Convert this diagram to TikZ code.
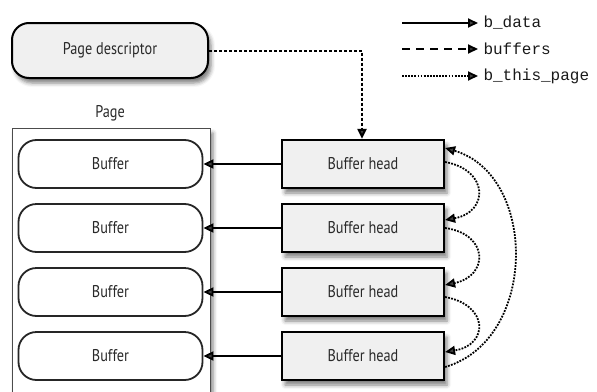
\documentclass[tikz,border=0pt]{standalone}
\usepackage{fontspec}
\setmainfont{PT Sans}[FakeStretch=0.84]
\newfontfamily\legendfont{Liberation Mono}
\usetikzlibrary{arrows.meta,shadows.blur,calc}
\definecolor{boxfill}{HTML}{F0F0F0}
\definecolor{txt}{HTML}{2A2A2A}
\begin{document}
\begin{tikzpicture}[x=1pt,y=-1pt,
  every node/.style={font=\fontsize{17}{20}\selectfont, text=txt},
  shade/.style={blur shadow={shadow xshift=3pt, shadow yshift=-5pt, shadow blur radius=4pt, shadow opacity=50}},
  descbox/.style={draw=black, line width=2pt, fill=boxfill, rounded corners=17pt, minimum width=196pt, minimum height=55pt, shade},
  bufbox/.style={draw=black!85, line width=1.8pt, fill=white, rounded corners=18pt, minimum width=184pt, minimum height=48pt},
  headbox/.style={draw=black, line width=2.2pt, fill=boxfill, minimum width=162pt, minimum height=48pt, shade},
  pagebox/.style={draw=black!70, line width=1pt, fill=white, shade},
  tip/.style={-{Triangle[length=10pt,width=9pt]}},
  dataline/.style={tip, line width=1.8pt},
  bufline/.style={tip, line width=2pt, dash pattern=on 3pt off 2pt},
  legbufline/.style={tip, line width=2pt, dash pattern=on 8pt off 6pt},
  pageline/.style={tip, line width=1.8pt, dash pattern=on 1.8pt off 1.3pt},
  legtext/.style={anchor=west, font=\legendfont\fontsize{16}{18}\selectfont, text=black!90}
]
\useasboundingbox (0,0) rectangle (597,391);

% page frame
\path[pagebox] (12,128) rectangle (210,400);
\node (pagelabel) at (110,113) {Page};

% page descriptor
\node[descbox] (pd) at (110,50.5) {Page descriptor};

% buffers and heads
\foreach \i/\y in {1/164,2/228,3/292,4/356}{
  \node[bufbox] (b\i) at (110.5,\y) {Buffer};
  \node[headbox] (h\i) at (363,\y) {Buffer head};
  \draw[dataline] (h\i.west) -- (b\i.east);
}

% buffers connector
\coordinate (bend) at (362,50.5);
\draw[bufline] (pd.east) -- (bend) -- (h1.north -| bend);

% b_this_page chain
\draw[pageline] ([yshift=2pt]h1.east) .. controls (489,170) and (489,212) .. ([yshift=8pt]h2.east);
\draw[pageline] ([yshift=0pt]h2.east) .. controls (489,234) and (489,276) .. ([yshift=7pt]h3.east);
\draw[pageline] ([yshift=-5pt]h3.east) .. controls (489,305) and (489,345) .. ([yshift=4pt]h4.east);
\draw[pageline] ([yshift=-11pt]h4.east) .. controls (538,340) and (538,175) .. ([yshift=16pt]h1.east);

% legend
\coordinate (l1a) at (402,23);  \coordinate (l1b) at (478,23);
\coordinate (l2a) at (402,49);  \coordinate (l2b) at (478,49);
\coordinate (l3a) at (402,76);  \coordinate (l3b) at (478,76);
\draw[dataline] (l1a) -- (l1b);
\draw[legbufline] (l2a) -- (l2b);
\draw[pageline] (l3a) -- (l3b);
\node[legtext] (t1) at (480,23) {b\_data};
\node[legtext] (t2) at (480,49) {buffers};
\node[legtext] (t3) at (480,76) {b\_this\_page};
\end{tikzpicture}
\end{document}
